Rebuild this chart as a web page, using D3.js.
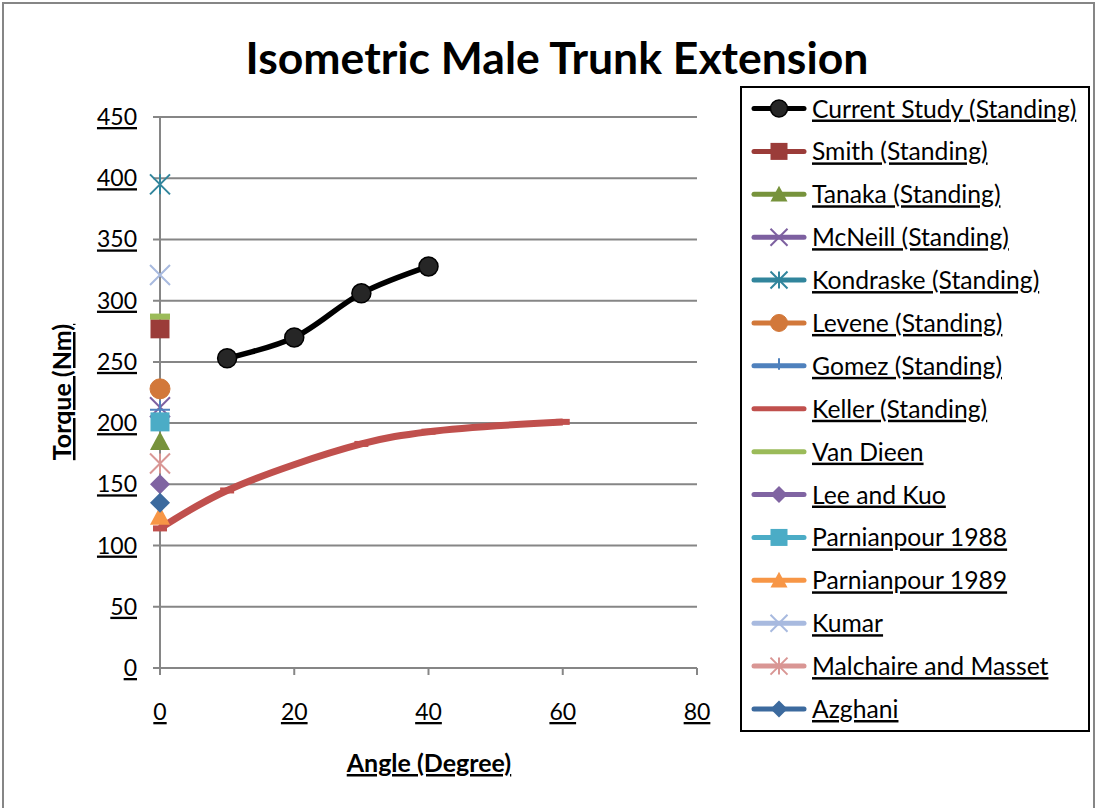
<!DOCTYPE html>
<html>
<head>
<meta charset="utf-8">
<script src="https://cdn.jsdelivr.net/npm/d3@7/dist/d3.min.js"></script>
<style>
  html, body { margin: 0; padding: 0; background: #fff; }
  svg { display: block; }
  text { font-family: Lato, "Open Sans", sans-serif; fill: #000; }
  .ul { text-decoration: underline; }
</style>
</head>
<body>
<svg id="chart" width="1097" height="808"></svg>
<script>
// ---------------- DATA ----------------
const chartTitle = "Isometric Male Trunk Extension";
const xAxisTitle = "Angle (Degree)";
const yAxisTitle = "Torque (Nm)";
const xTicks = [0, 20, 40, 60, 80];
const yTicks = [0, 50, 100, 150, 200, 250, 300, 350, 400, 450];

const currentAngle  = [10, 20, 30, 40];
const currentTorque = [253, 270, 306, 328];

const kellerAngle  = [0, 10, 30, 40, 60];
const kellerTorque = [114, 145, 183, 193, 201];

// single-point studies (all measured at 0 degrees)
const singleNames  = ["Smith (Standing)", "Tanaka (Standing)", "McNeill (Standing)", "Kondraske (Standing)",
                      "Levene (Standing)", "Gomez (Standing)", "Van Dieen", "Lee and Kuo",
                      "Parnianpour 1988", "Parnianpour 1989", "Kumar", "Malchaire and Masset", "Azghani"];
const singleAngle  = [0, 0, 0, 0, 0, 0, 0, 0, 0, 0, 0, 0, 0];
const singleTorque = [277, 185, 213, 395, 228, 211, 287, 150, 201, 124, 321, 167, 135];

// legend order (series order)
const legendNames = ["Current Study (Standing)", "Smith (Standing)", "Tanaka (Standing)", "McNeill (Standing)",
                     "Kondraske (Standing)", "Levene (Standing)", "Gomez (Standing)", "Keller (Standing)",
                     "Van Dieen", "Lee and Kuo", "Parnianpour 1988", "Parnianpour 1989", "Kumar",
                     "Malchaire and Masset", "Azghani"];

// ---------------- STYLES ----------------
const styleMap = {
  "Current Study (Standing)": {color: "#000000", marker: "circle"},
  "Smith (Standing)":        {color: "#9B3C39", marker: "square"},
  "Tanaka (Standing)":       {color: "#77933C", marker: "triangle"},
  "McNeill (Standing)":      {color: "#7D60A0", marker: "x"},
  "Kondraske (Standing)":    {color: "#31859C", marker: "star"},
  "Levene (Standing)":       {color: "#D2783A", marker: "circle"},
  "Gomez (Standing)":        {color: "#4F81BD", marker: "plus"},
  "Keller (Standing)":       {color: "#C0504D", marker: "dash"},
  "Van Dieen":               {color: "#9BBB59", marker: "dash"},
  "Lee and Kuo":             {color: "#8064A2", marker: "diamond"},
  "Parnianpour 1988":        {color: "#4BACC6", marker: "square"},
  "Parnianpour 1989":        {color: "#F79646", marker: "triangle"},
  "Kumar":                   {color: "#A8BADF", marker: "x"},
  "Malchaire and Masset":    {color: "#D99694", marker: "star"},
  "Azghani":                 {color: "#3C6A9E", marker: "diamond"}
};

const svg = d3.select("#chart");
const plot = {left: 160, right: 697, top: 117, bottom: 668};

// outer border
svg.append("rect").attr("x", 3).attr("y", 3).attr("width", 1091).attr("height", 820)
  .attr("fill", "#fff").attr("stroke", "#868686").attr("stroke-width", 2);

const x = d3.scaleLinear().domain([0, 80]).range([plot.left, plot.right]);
const y = d3.scaleLinear().domain([0, 450]).range([plot.bottom, plot.top]);

// title
svg.append("text").attr("x", 557).attr("y", 74).attr("text-anchor", "middle")
  .attr("font-weight", "bold").attr("font-size", 44.5).text(chartTitle);

// gridlines (horizontal) + y ticks
svg.append("g").selectAll("line").data(yTicks).enter().append("line")
  .attr("x1", plot.left - 7).attr("x2", plot.right)
  .attr("y1", d => y(d)).attr("y2", d => y(d))
  .attr("stroke", "#868686").attr("stroke-width", 2);

// y axis line
svg.append("line").attr("x1", x(0)).attr("x2", x(0))
  .attr("y1", y(450)).attr("y2", y(0) + 7)
  .attr("stroke", "#868686").attr("stroke-width", 2);

// x axis ticks
svg.append("g").selectAll("line").data(xTicks).enter().append("line")
  .attr("x1", d => x(d)).attr("x2", d => x(d))
  .attr("y1", y(0)).attr("y2", y(0) + 7)
  .attr("stroke", "#868686").attr("stroke-width", 2);

// tick labels
svg.append("g").selectAll("text").data(yTicks).enter().append("text")
  .attr("class", "ul").attr("x", 137).attr("y", d => y(d) + 8)
  .attr("text-anchor", "end").attr("font-size", 23).text(d => d);
svg.append("g").selectAll("text").data(xTicks).enter().append("text")
  .attr("class", "ul").attr("x", d => x(d)).attr("y", 720)
  .attr("text-anchor", "middle").attr("font-size", 23).text(d => d);

// axis titles
svg.append("text").attr("class", "ul").attr("x", 429).attr("y", 772)
  .attr("text-anchor", "middle").attr("font-weight", "bold").attr("font-size", 25).text(xAxisTitle);
svg.append("text").attr("class", "ul").attr("transform", "translate(71,392) rotate(-90)")
  .attr("text-anchor", "middle").attr("font-weight", "bold").attr("font-size", 25).text(yAxisTitle);

// ---------- marker drawing ----------
function drawMarker(g, type, cx, cy, color, s) {
  const h = s / 2;
  if (type === "circle") {
    const isBlack = color === "#000000";
    g.append("circle").attr("cx", cx).attr("cy", cy).attr("r", h)
      .attr("fill", isBlack ? "#262626" : color)
      .attr("stroke", isBlack ? "#000" : color).attr("stroke-width", isBlack ? 1.5 : 1);
  } else if (type === "square") {
    g.append("rect").attr("x", cx - h).attr("y", cy - h).attr("width", s).attr("height", s)
      .attr("fill", color);
  } else if (type === "triangle") {
    g.append("path").attr("d", `M${cx},${cy - h}L${cx + h},${cy + h * 0.85}L${cx - h},${cy + h * 0.85}Z`)
      .attr("fill", color);
  } else if (type === "diamond") {
    g.append("path").attr("d", `M${cx},${cy - h}L${cx + h},${cy}L${cx},${cy + h}L${cx - h},${cy}Z`)
      .attr("fill", color);
  } else if (type === "x") {
    g.append("path").attr("d", `M${cx - h},${cy - h}L${cx + h},${cy + h}M${cx - h},${cy + h}L${cx + h},${cy - h}`)
      .attr("stroke", color).attr("stroke-width", 2).attr("fill", "none");
  } else if (type === "star") {
    g.append("path").attr("d", `M${cx - h},${cy - h}L${cx + h},${cy + h}M${cx - h},${cy + h}L${cx + h},${cy - h}M${cx},${cy - h}L${cx},${cy + h}`)
      .attr("stroke", color).attr("stroke-width", 2).attr("fill", "none");
  } else if (type === "plus") {
    g.append("path").attr("d", `M${cx - h},${cy}L${cx + h},${cy}M${cx},${cy - h * 0.9}L${cx},${cy + h * 0.45}`)
      .attr("stroke", color).attr("stroke-width", 2).attr("fill", "none");
  } else if (type === "dash") {
    g.append("rect").attr("x", cx - h).attr("y", cy - 3).attr("width", s).attr("height", 6)
      .attr("fill", color);
  }
}

const marks = svg.append("g");
const line = d3.line().x(d => x(d[0])).y(d => y(d[1])).curve(d3.curveCatmullRom.alpha(0.5));

// series drawn in legend order
legendNames.forEach(name => {
  const st = styleMap[name];
  const g = marks.append("g");
  if (name === "Current Study (Standing)") {
    const pts = currentAngle.map((a, i) => [a, currentTorque[i]]);
    g.append("path").attr("d", line(pts)).attr("fill", "none")
      .attr("stroke", "#000").attr("stroke-width", 5.5).attr("stroke-linejoin", "round");
    pts.forEach(p => drawMarker(g, "circle", x(p[0]), y(p[1]), st.color, 19));
  } else if (name === "Keller (Standing)") {
    const pts = kellerAngle.map((a, i) => [a, kellerTorque[i]]);
    g.append("path").attr("d", line(pts)).attr("fill", "none")
      .attr("stroke", st.color).attr("stroke-width", 7).attr("stroke-linejoin", "round");
    pts.forEach(p => drawMarker(g, "dash", x(p[0]), y(p[1]), st.color, 14));
  } else {
    const i = singleNames.indexOf(name);
    drawMarker(g, st.marker, x(singleAngle[i]), y(singleTorque[i]), st.color,
      st.marker === "square" ? 19 : 20);
  }
});

// ---------- legend ----------
const lg = svg.append("g");
lg.append("rect").attr("x", 741).attr("y", 87).attr("width", 348).attr("height", 644)
  .attr("fill", "#fff").attr("stroke", "#000").attr("stroke-width", 2);
const rowY = d3.scaleLinear().domain([0, legendNames.length - 1]).range([108.5, 709]);
legendNames.forEach((name, i) => {
  const st = styleMap[name];
  const cy = rowY(i);
  lg.append("line").attr("x1", 754).attr("x2", 804).attr("y1", cy).attr("y2", cy)
    .attr("stroke", name === "Current Study (Standing)" ? "#000" : st.color)
    .attr("stroke-width", 5).attr("stroke-linecap", "round");
  if (st.marker !== "dash") {
    drawMarker(lg, st.marker, 779, cy, st.color, 17);
  }
  lg.append("text").attr("class", "ul").attr("x", 812).attr("y", cy + 9)
    .attr("font-size", 24.7).text(name);
});
</script>
</body>
</html>
